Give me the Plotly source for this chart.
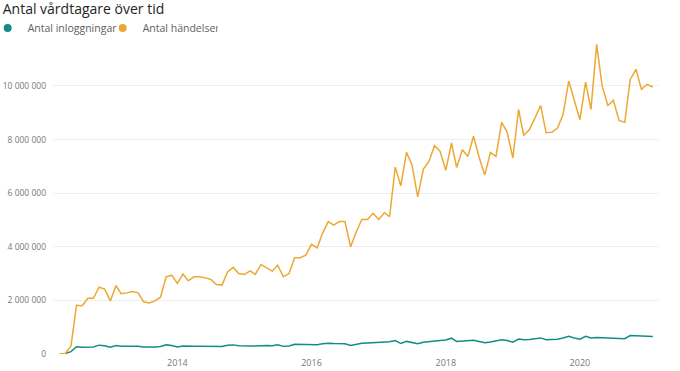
import pandas as pd
import plotly.graph_objects as go

# Monthly data, April 2012 – February 2021
months = pd.date_range("2012-04-01", "2021-02-01", freq="MS")

inloggningar = [
    0, 20000, 90000, 270000, 255000, 260000, 265000, 330000, 310000, 255000,
    320000, 290000, 290000, 295000, 290000, 260000, 255000, 265000, 280000, 340000,
    320000, 260000, 300000, 285000, 290000, 290000, 290000, 285000, 280000, 280000,
    330000, 340000, 310000, 290000, 295000, 300000, 320000, 315000, 310000, 340000,
    285000, 295000, 360000, 360000, 350000, 355000, 345000, 380000, 400000, 390000,
    390000, 385000, 320000, 370000, 400000, 410000, 420000, 420000, 440000, 460000,
    500000, 390000, 470000, 430000, 380000, 440000, 470000, 500000, 505000, 520000,
    590000, 470000, 490000, 490000, 510000, 470000, 420000, 450000, 480000, 530000,
    500000, 440000, 560000, 530000, 540000, 560000, 600000, 530000, 530000, 550000,
    600000, 660000, 600000, 550000, 660000, 600000, 620000, 610000, 600000, 610000,
    580000, 570000, 690000, 690000, 670000, 665000, 655000,
]

handelser = [
    0, 20000, 300000, 1820000, 1800000, 2080000, 2080000, 2490000, 2420000, 1980000,
    2550000, 2250000, 2280000, 2330000, 2280000, 1950000, 1900000, 1980000, 2120000, 2880000,
    2940000, 2630000, 2980000, 2730000, 2880000, 2880000, 2840000, 2790000, 2590000, 2570000,
    3060000, 3230000, 3000000, 2970000, 3100000, 2970000, 3340000, 3210000, 3090000, 3310000,
    2880000, 3000000, 3590000, 3590000, 3690000, 4090000, 3960000, 4500000, 4940000, 4810000,
    4940000, 4940000, 4000000, 4560000, 5020000, 5020000, 5250000, 5020000, 5270000, 5120000,
    6970000, 6270000, 7520000, 7060000, 5860000, 6900000, 7180000, 7770000, 7560000, 6850000,
    7870000, 6960000, 7620000, 7370000, 8120000, 7350000, 6680000, 7520000, 7370000, 8640000,
    8280000, 7310000, 9120000, 8150000, 8370000, 8800000, 9270000, 8250000, 8270000, 8430000,
    8930000, 10180000, 9430000, 8740000, 10140000, 9120000, 11550000, 9990000, 9270000, 9460000,
    8710000, 8640000, 10240000, 10620000, 9870000, 10060000, 9960000,
]

series_names = ["Antal inloggningar", "Antal händelser"]
colors = ["#138C87", "#ECA833"]
title_text = "Antal vårdtagare över tid"

FONT = "Open Sans, Noto Sans, DejaVu Sans, sans-serif"

fig = go.Figure()
for name, vals, col in zip(series_names, [inloggningar, handelser], colors):
    fig.add_trace(go.Scatter(
        x=months, y=vals, name=name, mode="lines",
        line=dict(color=col, width=1.5), showlegend=False,
    ))
# legend entries shown as circles
for name, col in zip(series_names, colors):
    fig.add_trace(go.Scatter(
        x=[None], y=[None], name=name, mode="markers",
        marker=dict(color=col, size=8, symbol="circle"),
    ))

fig.update_layout(
    width=680, height=371,
    paper_bgcolor="white", plot_bgcolor="white",
    separators=", ",
    margin=dict(l=53, r=22, t=43, b=17, autoexpand=False),
    font=dict(family=FONT, color="#777777"),
    title=dict(
        text=title_text, x=0.004, xanchor="left", xref="container",
        y=1 - 9 / 371, yanchor="middle", yref="container",
        font=dict(size=14, color="#252423", family=FONT),
    ),
    legend=dict(
        orientation="h", x=-0.108, xanchor="left", xref="paper",
        y=1 - 28 / 371, yanchor="middle", yref="container",
        font=dict(size=10.5, color="#605E5C"),
        itemwidth=30, tracegroupgap=0,
        entrywidth=70, entrywidthmode="pixels",
        bgcolor="rgba(0,0,0,0)",
    ),
    xaxis=dict(
        range=["2012-02-24", "2021-03-01"],
        tick0="2014-01-01", dtick="M24", tickformat="%Y",
        showgrid=False, zeroline=False, showline=False,
        tickfont=dict(size=9, color="#777777"),
        ticks="", ticklabelstandoff=2, automargin=False,
    ),
    yaxis=dict(
        range=[0, 11.6e6], tickvals=[0, 2e6, 4e6, 6e6, 8e6, 10e6],
        tickformat=",.0f",
        showgrid=True, gridcolor="#EEEEEE", gridwidth=1,
        zeroline=False, showline=False,
        tickfont=dict(size=8.5, color="#777777"),
        ticks="", ticklabelstandoff=6, automargin=False,
    ),
)

fig.write_html(
    "out.html",
    config={"displayModeBar": False},
    post_script="document.body.style.margin='0';document.body.style.overflow='hidden';",
)
